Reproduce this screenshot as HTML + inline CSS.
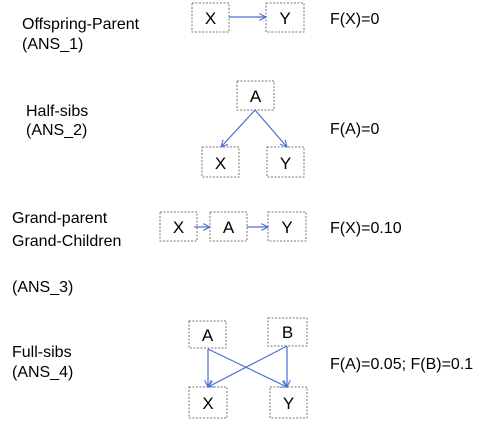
<!DOCTYPE html>
<html><head><meta charset="utf-8"><style>
body{margin:0;background:#fff}
svg{display:block}
text{font-family:"Liberation Sans",sans-serif;font-size:16px;fill:#000}
.b{fill:#fff;stroke:#777;stroke-width:1;stroke-dasharray:2,1.5}
.a{stroke:#4a6fd0;stroke-width:1.2;fill:none}
.bl{font-size:17px;text-anchor:middle}
</style></head><body>
<svg width="488" height="425" viewBox="0 0 488 425">
<defs><marker id="m" viewBox="0 0 10 10" refX="9" refY="5" markerWidth="7" markerHeight="7" orient="auto"><path d="M1,1 L9,5 L1,9" fill="none" stroke="#4a6fd0" stroke-width="1.3"/></marker></defs>

<g>
<text x="22" y="29">Offspring-Parent</text>
<text x="22" y="49">(ANS_1)</text>
<rect class="b" x="192" y="3" width="37" height="29"/>
<text class="bl" x="210.5" y="24">X</text>
<rect class="b" x="266" y="3" width="38" height="29"/>
<text class="bl" x="285" y="24">Y</text>
<line class="a" x1="229" y1="17" x2="266" y2="17" marker-end="url(#m)"/>
<text x="330" y="24">F(X)=0</text>
</g>

<g>
<text x="26" y="116">Half-sibs</text>
<text x="26" y="135">(ANS_2)</text>
<rect class="b" x="237" y="81" width="37" height="29"/>
<text class="bl" x="255.5" y="102">A</text>
<rect class="b" x="202" y="147" width="37" height="30"/>
<text class="bl" x="220.5" y="169">X</text>
<rect class="b" x="267" y="147" width="37" height="30"/>
<text class="bl" x="285.5" y="169">Y</text>
<line class="a" x1="255" y1="110" x2="221" y2="147" marker-end="url(#m)"/>
<line class="a" x1="255" y1="110" x2="287" y2="147" marker-end="url(#m)"/>
<text x="330" y="134">F(A)=0</text>
</g>

<g>
<text x="12" y="223">Grand-parent</text>
<text x="12" y="246">Grand-Children</text>
<text x="12" y="292">(ANS_3)</text>
<rect class="b" x="160" y="212" width="37" height="29"/>
<text class="bl" x="178.5" y="233">X</text>
<rect class="b" x="210" y="212" width="37" height="29"/>
<text class="bl" x="228.5" y="233">A</text>
<rect class="b" x="268" y="212" width="38" height="29"/>
<text class="bl" x="287" y="233">Y</text>
<line class="a" x1="194" y1="227" x2="210" y2="227" marker-end="url(#m)"/>
<line class="a" x1="247" y1="227" x2="268" y2="227" marker-end="url(#m)"/>
<text x="330" y="233">F(X)=0.10</text>
</g>

<g>
<text x="12" y="357">Full-sibs</text>
<text x="12" y="377">(ANS_4)</text>
<rect class="b" x="189" y="321" width="37" height="27"/>
<text class="bl" x="207.5" y="341">A</text>
<rect class="b" x="268" y="318" width="39" height="28"/>
<text class="bl" x="287.5" y="338">B</text>
<rect class="b" x="189" y="387" width="38" height="31"/>
<text class="bl" x="208" y="409">X</text>
<rect class="b" x="270" y="387" width="37" height="31"/>
<text class="bl" x="288.5" y="409">Y</text>
<line class="a" x1="208" y1="349" x2="208" y2="387" marker-end="url(#m)"/>
<line class="a" x1="208" y1="349" x2="287" y2="387" marker-end="url(#m)"/>
<line class="a" x1="287" y1="346" x2="208" y2="387" marker-end="url(#m)"/>
<line class="a" x1="287" y1="346" x2="287" y2="387" marker-end="url(#m)"/>
<text x="330" y="369">F(A)=0.05; F(B)=0.1</text>
</g>
</svg>
</body></html>
